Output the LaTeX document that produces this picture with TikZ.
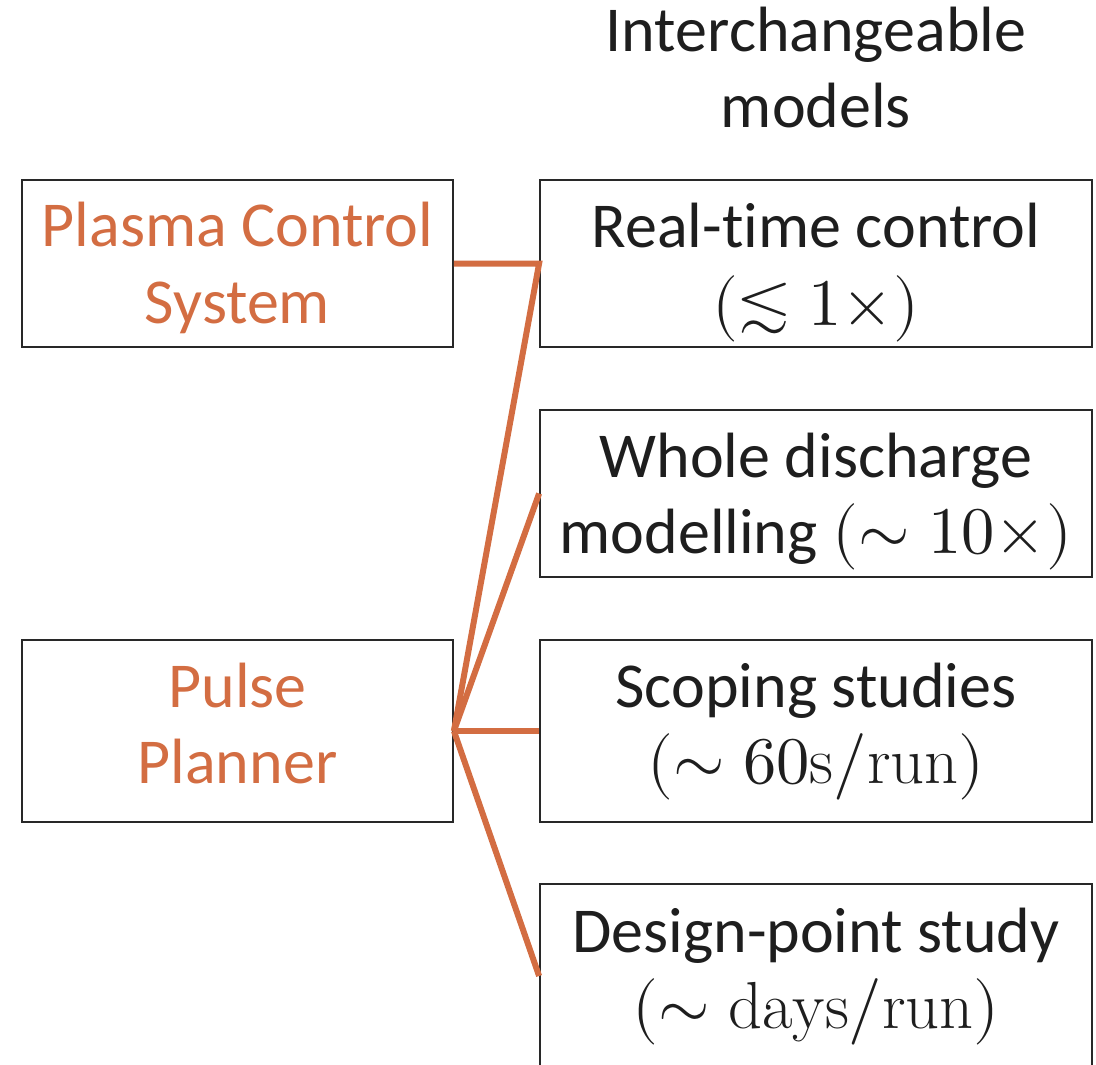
\documentclass[tikz,border=0pt]{standalone}
\usepackage{fontspec}
\usepackage{unicode-math}
\setmainfont{Carlito}[Ligatures=NoCommon]
\setmathfont{Latin Modern Math}[Scale=1.04]
\setmathrm{Latin Modern Roman}[Scale=1.04]
\definecolor{linkorange}{RGB}{211,109,66}
\definecolor{boxline}{RGB}{40,40,40}
\definecolor{inktext}{RGB}{30,30,30}
\begin{document}
\begin{tikzpicture}[x=0.5pt,y=-0.5pt,
  line/.style={font=\fontsize{32}{38}\selectfont, anchor=base, inner sep=0pt, text=inktext},
  userline/.style={line, text=linkorange},
  frame/.style={draw=boxline, line width=0.9pt, inner sep=0pt, minimum width=#1},
  modelbox/.style={frame=276pt},
  userbox/.style={frame=215.5pt},
  link/.style={draw=linkorange, line width=3pt}]
  \useasboundingbox (0,0) rectangle (1096,1064);
  \clip (0,0) rectangle (1096,1064);

  % heading
  \node[line] (head1) at (816,52) {Interchangeable};
  \node[line] (head2) at (816,128) {models};

  % users of the models
  \node[userbox, minimum height=83.5pt] (pcs) at (237.5,263.5) {};
  \node[userline] (pcs1) at (237.5,247) {Plasma Control};
  \node[userline] (pcs2) at (237.5,323) {System};

  \node[userbox, minimum height=91pt] (pp) at (237.5,731) {};
  \node[userline] (pp1) at (237.5,707) {Pulse};
  \node[userline] (pp2) at (237.5,783) {Planner};

  % model fidelity levels
  \node[modelbox, minimum height=83.5pt] (rt) at (816,263.5) {};
  \node[line] (rt1) at (816,248) {Real-time control};
  \node[line] (rt2) at (816,325) {$(\lesssim 1\times)$};

  \node[modelbox, minimum height=83.5pt] (wd) at (816,493.5) {};
  \node[line] (wd1) at (816,477) {Whole discharge};
  \node[line] (wd2) at (816,553) {modelling $(\sim 10\times)$};

  \node[modelbox, minimum height=91pt] (ss) at (816,731) {};
  \node[line] (ss1) at (816,707) {Scoping studies};
  \node[line] (ss2) at (816,783) {$(\sim 60\mathrm{s/run})$};

  \node[modelbox, minimum height=92pt] (dp) at (816,976) {};
  \node[line] (dp1) at (816,952) {Design-point study};
  \node[line] (dp2) at (816,1028) {$(\sim \mathrm{days/run})$};

  % connections
  \draw[link, line join=miter] (pcs.east) -- (rt.west) -- (pp.east);
  \draw[link] (pp.east) -- (wd.west);
  \draw[link] (pp.east) -- (ss.west);
  \draw[link] (pp.east) -- (dp.west);
\end{tikzpicture}
\end{document}
